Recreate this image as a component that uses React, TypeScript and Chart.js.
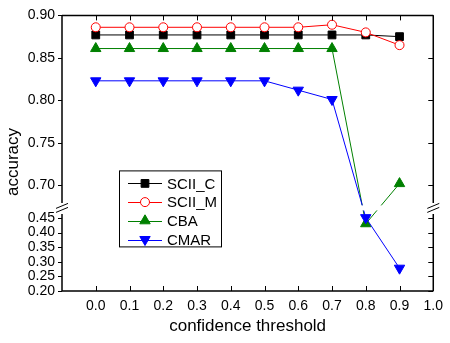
import React, { useEffect, useRef } from 'react';
import { Chart, registerables, LinearScale } from 'chart.js';

// ---------- data ----------
const thresholds = [0.0, 0.1, 0.2, 0.3, 0.4, 0.5, 0.6, 0.7, 0.8, 0.9];
const sciiC = [0.877, 0.877, 0.877, 0.877, 0.877, 0.877, 0.877, 0.877, 0.877, 0.875];
const sciiM = [0.886, 0.886, 0.886, 0.886, 0.886, 0.886, 0.886, 0.889, 0.880, 0.865];
const cba = [0.861, 0.861, 0.861, 0.861, 0.861, 0.861, 0.861, 0.861, 0.430, 0.702];
const cmar = [0.823, 0.823, 0.823, 0.823, 0.823, 0.823, 0.812, 0.801, 0.452, 0.278];
const seriesNames = ['SCII_C', 'SCII_M', 'CBA', 'CMAR'];
const yTicks = [0.2, 0.25, 0.3, 0.35, 0.4, 0.45, 0.7, 0.75, 0.8, 0.85, 0.9];
const xTicks = [0.0, 0.1, 0.2, 0.3, 0.4, 0.5, 0.6, 0.7, 0.8, 0.9, 1.0];
const breakLow = 0.45;
const breakHigh = 0.7;
const xTitle = 'confidence threshold';
const yTitle = 'accuracy';

const FONT = 'Arial, "Liberation Sans", Helvetica, sans-serif';

// ---------- broken linear scale ----------
class BrokenScale extends (LinearScale as any) {
  static id = 'broken';
  static defaults = { ...(LinearScale as any).defaults };
  // relative pixel weights: lower segment, gap, upper segment
  weights() {
    const w = this.options.segmentWeights || [74, 33, 172];
    const t = w[0] + w[1] + w[2];
    return [w[0] / t, w[1] / t, w[2] / t];
  }
  toDecimal(v: number) {
    const [fl, fg, fu] = this.weights();
    const mn = this.min, mx = this.max;
    if (v <= breakLow) return ((v - mn) / (breakLow - mn)) * fl;
    if (v >= breakHigh) return fl + fg + ((v - breakHigh) / (mx - breakHigh)) * fu;
    return fl + ((v - breakLow) / (breakHigh - breakLow)) * fg;
  }
  fromDecimal(d: number) {
    const [fl, fg, fu] = this.weights();
    const mn = this.min, mx = this.max;
    if (d <= fl) return mn + (d / fl) * (breakLow - mn);
    if (d >= fl + fg) return breakHigh + ((d - fl - fg) / fu) * (mx - breakHigh);
    return breakLow + ((d - fl) / fg) * (breakHigh - breakLow);
  }
  getPixelForValue(v: any) {
    if (v === null || v === undefined || isNaN(v)) return NaN;
    return (this as any).getPixelForDecimal(this.toDecimal(+v));
  }
  getValueForPixel(p: number) {
    return this.fromDecimal((this as any).getDecimalForPixel(p));
  }
}

Chart.register(...registerables, BrokenScale as any);

const colors = ['#000000', '#ff0000', '#008000', '#0000ff'];
const styles = ['rect', 'circle', 'triangle', 'triangle'];
const rotations = [0, 0, 0, 180];
const radii = [5.5, 4.5, 6, 6];
const fills = ['#000000', '#ffffff', '#008000', '#0000ff'];

function drawMarker(ctx: CanvasRenderingContext2D, i: number, x: number, y: number) {
  const r = radii[i];
  ctx.save();
  ctx.fillStyle = fills[i];
  ctx.strokeStyle = colors[i];
  ctx.lineWidth = 1;
  ctx.beginPath();
  if (styles[i] === 'rect') {
    const s = Math.SQRT1_2 * r;
    ctx.rect(x - s, y - s, 2 * s, 2 * s);
  } else if (styles[i] === 'circle') {
    ctx.arc(x, y, r, 0, Math.PI * 2);
  } else {
    const dir = rotations[i] === 180 ? -1 : 1;
    ctx.moveTo(x, y - dir * r);
    ctx.lineTo(x + r * Math.sin((2 * Math.PI) / 3), y + dir * r * 0.5);
    ctx.lineTo(x - r * Math.sin((2 * Math.PI) / 3), y + dir * r * 0.5);
    ctx.closePath();
  }
  ctx.fill();
  ctx.stroke();
  ctx.restore();
}

const framePlugin = {
  id: 'framePlugin',
  afterDatasetsDraw(chart: any) {
    const { ctx, chartArea, scales } = chart;
    const { left, right, top, bottom } = chartArea;
    const x = scales.x, y = scales.y;
    const yb = y.getPixelForValue(breakLow) - 10; // break centre
    ctx.save();
    // gap in plotted lines at the break
    ctx.fillStyle = '#ffffff';
    ctx.fillRect(left + 1, yb - 2.5, right - left - 2, 5);

    ctx.strokeStyle = '#000';
    ctx.lineWidth = 1.5;
    ctx.beginPath();
    ctx.moveTo(left, top); ctx.lineTo(right, top);
    ctx.moveTo(left, bottom); ctx.lineTo(right, bottom);
    ctx.moveTo(left, top); ctx.lineTo(left, yb - 5);
    ctx.moveTo(left, yb + 6); ctx.lineTo(left, bottom);
    ctx.moveTo(right, top); ctx.lineTo(right, yb - 5);
    ctx.moveTo(right, yb + 6); ctx.lineTo(right, bottom);
    ctx.stroke();

    ctx.lineWidth = 1;
    ctx.beginPath();
    for (const v of xTicks) {
      const px = Math.round(x.getPixelForValue(v)) + 0.5;
      ctx.moveTo(px, bottom); ctx.lineTo(px, bottom - 5);
      ctx.moveTo(px, top); ctx.lineTo(px, top + 5);
    }
    for (const v of yTicks) {
      const py = Math.round(y.getPixelForValue(v)) + 0.5;
      ctx.moveTo(left - 4, py); ctx.lineTo(left, py);
      ctx.moveTo(right - 5, py); ctx.lineTo(right, py);
    }
    ctx.stroke();

    // break marks
    ctx.lineWidth = 1;
    ctx.beginPath();
    for (const cx of [left, right]) {
      for (const off of [-2, 2]) {
        ctx.moveTo(cx - 6, yb + off + 2.5);
        ctx.lineTo(cx + 6, yb + off - 2.5);
      }
    }
    ctx.stroke();

    // legend
    const lx = left + 57, ly = top + 155, lw = 102, lh = 76;
    ctx.fillStyle = '#fff';
    ctx.fillRect(lx, ly, lw, lh);
    ctx.strokeStyle = '#000';
    ctx.lineWidth = 1;
    ctx.strokeRect(lx + 0.5, ly + 0.5, lw, lh);
    ctx.font = '15px ' + FONT;
    ctx.textBaseline = 'middle';
    ctx.textAlign = 'left';
    seriesNames.forEach((name, i) => {
      const ry = ly + 13 + i * 18.7;
      ctx.strokeStyle = colors[i];
      ctx.lineWidth = 1;
      ctx.beginPath();
      ctx.moveTo(lx + 9, Math.round(ry) + 0.5);
      ctx.lineTo(lx + 43, Math.round(ry) + 0.5);
      ctx.stroke();
      drawMarker(ctx, i, lx + 26, ry);
      ctx.fillStyle = '#000';
      ctx.fillText(name, lx + 48, ry + 1);
    });

    // axis titles
    ctx.fillStyle = '#000';
    ctx.font = '17px ' + FONT;
    ctx.textAlign = 'center';
    ctx.textBaseline = 'middle';
    ctx.fillText(xTitle, (left + right) / 2, 326);
    ctx.save();
    ctx.translate(13, 162);
    ctx.rotate(-Math.PI / 2);
    ctx.fillText(yTitle, 0, 0);
    ctx.restore();
    ctx.restore();
  },
};

export default function App() {
  const ref = useRef<HTMLCanvasElement>(null);
  useEffect(() => {
    if (!ref.current) return;
    const all = [sciiC, sciiM, cba, cmar];
    const chart = new Chart(ref.current, {
      type: 'line',
      data: {
        datasets: all.map((vals, i) => ({
          label: seriesNames[i],
          data: thresholds.map((t, k) => ({ x: t, y: vals[k] })),
          borderColor: colors[i],
          backgroundColor: fills[i],
          pointBackgroundColor: fills[i],
          pointBorderColor: colors[i],
          pointBorderWidth: 1,
          pointStyle: styles[i] as any,
          pointRotation: rotations[i],
          pointRadius: radii[i],
          borderWidth: 1,
          tension: 0,
          fill: false,
          order: 4 - i,
        })),
      },
      options: {
        responsive: false,
        animation: false,
        devicePixelRatio: 1,
        layout: { padding: { left: 0, top: 12, right: 10, bottom: 0 } },
        plugins: { legend: { display: false }, tooltip: { enabled: false } },
        scales: {
          x: {
            type: 'linear',
            min: -0.1,
            max: 1.0,
            grid: { display: false, drawTicks: false },
            border: { display: false },
            afterBuildTicks: (s: any) => { s.ticks = xTicks.map((v) => ({ value: v })); },
            afterFit: (s: any) => { s.height = 52; },
            ticks: {
              autoSkip: false,
              maxRotation: 0,
              padding: 7,
              color: '#000',
              font: { family: FONT, size: 14 },
              callback: (v: any) => Number(v).toFixed(1),
            },
          },
          y: {
            type: 'broken' as any,
            min: 0.2,
            max: 0.9,
            grid: { display: false, drawTicks: false },
            border: { display: false },
            afterBuildTicks: (s: any) => { s.ticks = yTicks.map((v) => ({ value: v })); },
            afterFit: (s: any) => { s.width = 62; },
            ticks: {
              autoSkip: false,
              padding: 7,
              color: '#000',
              font: { family: FONT, size: 14 },
              callback: (v: any) => Number(v).toFixed(2),
            },
          } as any,
        },
      },
      plugins: [framePlugin],
    } as any);
    return () => chart.destroy();
  }, []);
  return (
    <div style={{ position: 'fixed', left: 0, top: 0, width: 450, height: 343, background: '#fff' }}>
      <canvas ref={ref} width={450} height={343} style={{ display: 'block' }} />
    </div>
  );
}
